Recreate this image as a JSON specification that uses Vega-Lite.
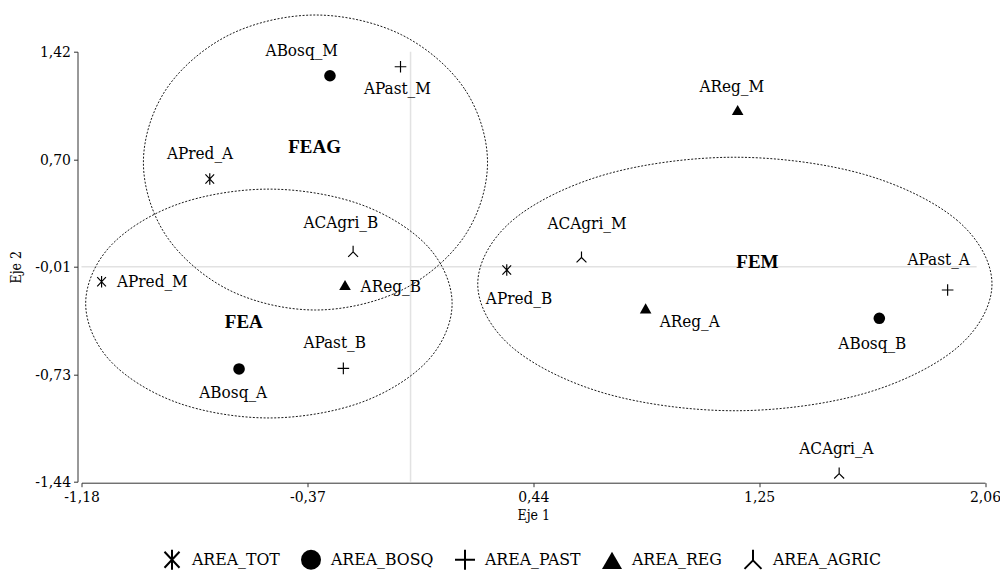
{
  "$schema": "https://vega.github.io/schema/vega-lite/v6.json",
  "autosize": "none",
  "width": 903.5,
  "height": 430,
  "padding": {"left": 81.5, "top": 51.7, "right": 15, "bottom": 93.3},
  "background": "white",
  "config": {
    "view": {"stroke": null},
    "font": "DejaVu Serif Condensed, DejaVu Serif, serif",
    "axis": {
      "grid": false,
      "domainColor": "#333333",
      "tickColor": "#333333",
      "labelColor": "#000000",
      "titleColor": "#000000",
      "labelFont": "DejaVu Serif Condensed, DejaVu Serif, serif",
      "titleFont": "DejaVu Serif Condensed, DejaVu Serif, serif",
      "labelFontSize": 15.5,
      "titleFontSize": 14,
      "titleFontWeight": "normal",
      "tickSize": 4,
      "domainWidth": 1,
      "tickWidth": 1
    }
  },
  "datasets": {
    "pts": [
      {"name": "ABosq_M", "cat": "AREA_BOSQ", "x": -0.289, "y": 1.26},
      {"name": "APast_M", "cat": "AREA_PAST", "x": -0.036, "y": 1.32},
      {"name": "APred_A", "cat": "AREA_TOT", "x": -0.72, "y": 0.573},
      {"name": "ACAgri_B", "cat": "AREA_AGRIC", "x": -0.206, "y": 0.09},
      {"name": "AReg_B", "cat": "AREA_REG", "x": -0.235, "y": -0.132},
      {"name": "APred_M", "cat": "AREA_TOT", "x": -1.108, "y": -0.11},
      {"name": "ABosq_A", "cat": "AREA_BOSQ", "x": -0.615, "y": -0.69},
      {"name": "APast_B", "cat": "AREA_PAST", "x": -0.241, "y": -0.686},
      {"name": "AReg_M", "cat": "AREA_REG", "x": 1.173, "y": 1.032},
      {"name": "ACAgri_M", "cat": "AREA_AGRIC", "x": 0.613, "y": 0.053},
      {"name": "APred_B", "cat": "AREA_TOT", "x": 0.345, "y": -0.032},
      {"name": "AReg_A", "cat": "AREA_REG", "x": 0.843, "y": -0.287},
      {"name": "ABosq_B", "cat": "AREA_BOSQ", "x": 1.681, "y": -0.353},
      {"name": "APast_A", "cat": "AREA_PAST", "x": 1.926, "y": -0.165},
      {"name": "ACAgri_A", "cat": "AREA_AGRIC", "x": 1.537, "y": -1.384}
    ],
    "labels": [
      {"name": "ABosq_M", "x": -0.39, "y": 1.425},
      {"name": "APast_M", "x": -0.047, "y": 1.175},
      {"name": "APred_A", "x": -0.755, "y": 0.738},
      {"name": "ACAgri_B", "x": -0.25, "y": 0.282},
      {"name": "AReg_B", "x": -0.071, "y": -0.148},
      {"name": "APred_M", "x": -0.926, "y": -0.11},
      {"name": "APast_B", "x": -0.272, "y": -0.516},
      {"name": "ABosq_A", "x": -0.636, "y": -0.849},
      {"name": "AReg_M", "x": 1.152, "y": 1.182},
      {"name": "ACAgri_M", "x": 0.633, "y": 0.273},
      {"name": "APast_A", "x": 1.894, "y": 0.034},
      {"name": "APred_B", "x": 0.389, "y": -0.228},
      {"name": "AReg_A", "x": 1.001, "y": -0.377},
      {"name": "ABosq_B", "x": 1.656, "y": -0.525},
      {"name": "ACAgri_A", "x": 1.527, "y": -1.225}
    ],
    "clusters": [
      {"name": "FEAG", "x": -0.344, "y": 0.787},
      {"name": "FEA", "x": -0.598, "y": -0.381},
      {"name": "FEM", "x": 1.244, "y": 0.023}
    ],
    "ellipses": [
      {"grp": "FEAG", "i": 0, "x": 0.276, "y": 0.683},
      {"grp": "FEAG", "i": 1, "x": 0.193, "y": 1.174},
      {"grp": "FEAG", "i": 2, "x": -0.033, "y": 1.533},
      {"grp": "FEAG", "i": 3, "x": -0.341, "y": 1.664},
      {"grp": "FEAG", "i": 4, "x": -0.649, "y": 1.533},
      {"grp": "FEAG", "i": 5, "x": -0.875, "y": 1.174},
      {"grp": "FEAG", "i": 6, "x": -0.958, "y": 0.683},
      {"grp": "FEAG", "i": 7, "x": -0.875, "y": 0.192},
      {"grp": "FEAG", "i": 8, "x": -0.649, "y": -0.167},
      {"grp": "FEAG", "i": 9, "x": -0.341, "y": -0.298},
      {"grp": "FEAG", "i": 10, "x": -0.033, "y": -0.167},
      {"grp": "FEAG", "i": 11, "x": 0.193, "y": 0.192},
      {"grp": "FEA", "i": 0, "x": 0.149, "y": -0.255},
      {"grp": "FEA", "i": 1, "x": 0.061, "y": 0.126},
      {"grp": "FEA", "i": 2, "x": -0.179, "y": 0.404},
      {"grp": "FEA", "i": 3, "x": -0.508, "y": 0.506},
      {"grp": "FEA", "i": 4, "x": -0.837, "y": 0.404},
      {"grp": "FEA", "i": 5, "x": -1.077, "y": 0.126},
      {"grp": "FEA", "i": 6, "x": -1.165, "y": -0.255},
      {"grp": "FEA", "i": 7, "x": -1.077, "y": -0.636},
      {"grp": "FEA", "i": 8, "x": -0.837, "y": -0.914},
      {"grp": "FEA", "i": 9, "x": -0.508, "y": -1.016},
      {"grp": "FEA", "i": 10, "x": -0.179, "y": -0.914},
      {"grp": "FEA", "i": 11, "x": 0.061, "y": -0.636},
      {"grp": "FEM", "i": 0, "x": 2.085, "y": -0.125},
      {"grp": "FEM", "i": 1, "x": 1.961, "y": 0.297},
      {"grp": "FEM", "i": 2, "x": 1.624, "y": 0.605},
      {"grp": "FEM", "i": 3, "x": 1.163, "y": 0.718},
      {"grp": "FEM", "i": 4, "x": 0.702, "y": 0.605},
      {"grp": "FEM", "i": 5, "x": 0.365, "y": 0.297},
      {"grp": "FEM", "i": 6, "x": 0.241, "y": -0.125},
      {"grp": "FEM", "i": 7, "x": 0.365, "y": -0.547},
      {"grp": "FEM", "i": 8, "x": 0.702, "y": -0.855},
      {"grp": "FEM", "i": 9, "x": 1.163, "y": -0.968},
      {"grp": "FEM", "i": 10, "x": 1.624, "y": -0.855},
      {"grp": "FEM", "i": 11, "x": 1.961, "y": -0.547}
    ],
    "vrule": [{"x": 0, "y": -1.44, "y2": 1.42}],
    "hrule": [{"x": -1.18, "x2": 2.03, "y": -0.01}]
  },
  "encoding": {
    "x": {
      "field": "x",
      "type": "quantitative",
      "scale": {"domain": [-1.18, 2.06], "nice": false, "zero": false},
      "axis": {
        "title": "Eje 1",
        "values": [-1.18, -0.37, 0.44, 1.25, 2.06],
        "labelExpr": "(datum.value < 0 ? '-' : '') + replace(format(abs(datum.value), '.2f'), '.', ',')",
        "offset": 1,
        "labelPadding": 3,
        "titlePadding": 3,
        "labelFlush": false,
        "labelOverlap": false
      }
    },
    "y": {
      "field": "y",
      "type": "quantitative",
      "scale": {"domain": [-1.44, 1.42], "nice": false, "zero": false},
      "axis": {
        "title": "Eje 2",
        "values": [-1.44, -0.73, -0.01, 0.7, 1.42],
        "labelExpr": "(datum.value < 0 ? '-' : '') + replace(format(abs(datum.value), '.2f'), '.', ',')",
        "offset": 4,
        "labelPadding": 3,
        "titlePadding": 11,
        "labelFlush": false,
        "labelOverlap": false
      }
    }
  },
  "layer": [
    {
      "data": {"name": "vrule"},
      "mark": {"type": "rule", "color": "#e2e2e2", "strokeWidth": 1.5},
      "encoding": {"y2": {"field": "y2"}}
    },
    {
      "data": {"name": "hrule"},
      "mark": {"type": "rule", "color": "#e2e2e2", "strokeWidth": 1.5},
      "encoding": {"x2": {"field": "x2"}}
    },
    {
      "data": {"name": "ellipses"},
      "mark": {"type": "line", "interpolate": "cardinal-closed", "color": "#000000", "strokeWidth": 0.9, "strokeDash": [2, 1.6], "clip": false},
      "encoding": {
        "detail": {"field": "grp"},
        "order": {"field": "i", "type": "quantitative"}
      }
    },
    {
      "data": {"name": "pts"},
      "mark": {"type": "point", "filled": true, "fill": "#000000", "strokeWidth": 0, "opacity": 1, "size": 135},
      "encoding": {
        "shape": {
          "field": "cat",
          "type": "nominal",
          "scale": {
            "domain": ["AREA_TOT", "AREA_BOSQ", "AREA_PAST", "AREA_REG", "AREA_AGRIC"],
            "range": [
              "M-0.1,-1H0.1V1H-0.1ZM-0.677,-0.868L0.823,0.732L0.677,0.868L-0.823,-0.732ZM-0.823,0.732L0.677,-0.868L0.823,-0.732L-0.677,0.868Z",
              "circle",
              "M-1,-0.1H-0.1V-1H0.1V-0.1H1V0.1H0.1V1H-0.1V0.1H-1Z",
              "triangle-up",
              "M-0.1,-1H0.1V0.1H-0.1ZM0.071,0.121L-0.779,0.971L-0.921,0.829L-0.071,-0.021ZM0.071,-0.021L0.921,0.829L0.779,0.971L-0.071,0.121Z"
            ]
          },
          "legend": {
            "title": null,
            "orient": "none",
            "direction": "horizontal",
            "legendX": 80.5,
            "legendY": 498,
            "padding": 0,
            "symbolSize": 400,
            "symbolFillColor": "#000000",
            "symbolStrokeWidth": 0,
            "labelFont": "DejaVu Serif Condensed, DejaVu Serif, serif",
            "labelFontSize": 17.5,
            "labelColor": "#000000",
            "labelOffset": 10,
            "columnPadding": 21,
            "labelLimit": 300
          }
        }
      }
    },
    {
      "data": {"name": "labels"},
      "mark": {"type": "text", "font": "DejaVu Serif Condensed, DejaVu Serif, serif", "fontSize": 17, "color": "#000000", "align": "center", "baseline": "middle"},
      "encoding": {"text": {"field": "name"}}
    },
    {
      "data": {"name": "clusters"},
      "mark": {"type": "text", "font": "Liberation Serif, Times New Roman, serif", "fontSize": 19, "fontWeight": "bold", "color": "#000000", "align": "center", "baseline": "middle"},
      "encoding": {"text": {"field": "name"}}
    }
  ]
}
